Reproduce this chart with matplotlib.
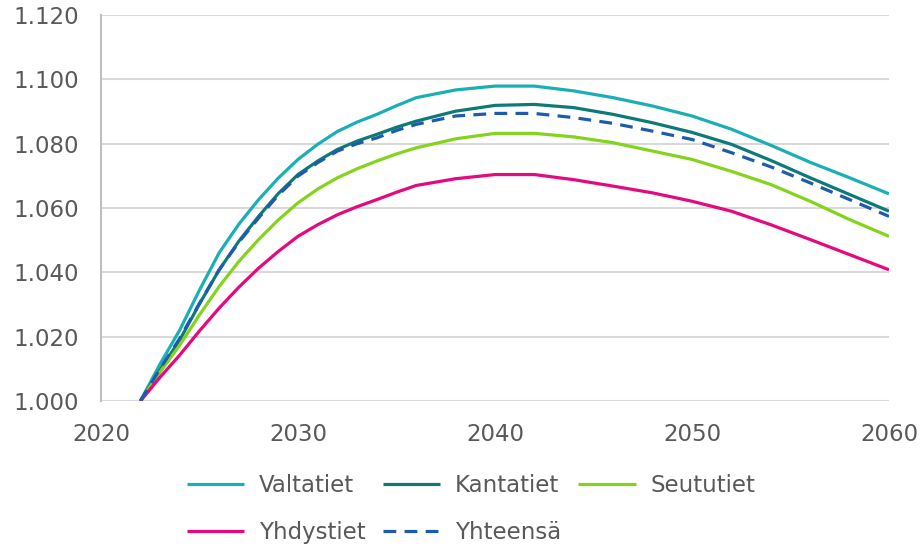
import matplotlib.pyplot as plt

years = [2022, 2023, 2024, 2025, 2026, 2027, 2028, 2029, 2030, 2031, 2032, 2033, 2034,
         2035, 2036, 2038, 2040, 2042, 2044, 2046, 2048, 2050, 2052, 2054, 2056, 2058, 2060]

valtatiet = [1.000, 1.0115, 1.0221, 1.0345, 1.0461, 1.0550, 1.0626, 1.0693, 1.0751,
             1.0798, 1.0838, 1.0867, 1.0891, 1.0918, 1.0943, 1.0967, 1.0979, 1.0979,
             1.0964, 1.0943, 1.0917, 1.0886, 1.0845, 1.0795, 1.0742, 1.0694, 1.0644]
kantatiet = [1.000, 1.0097, 1.0190, 1.0302, 1.0408, 1.0497, 1.0574, 1.0645, 1.0704,
             1.0746, 1.0782, 1.0808, 1.0829, 1.0851, 1.0870, 1.0901, 1.0919, 1.0922,
             1.0912, 1.0891, 1.0865, 1.0835, 1.0798, 1.0748, 1.0694, 1.0642, 1.0590]
seututiet = [1.000, 1.0090, 1.0174, 1.0268, 1.0356, 1.0434, 1.0502, 1.0563, 1.0616,
             1.0659, 1.0694, 1.0722, 1.0746, 1.0768, 1.0787, 1.0815, 1.0832, 1.0832,
             1.0821, 1.0803, 1.0777, 1.0751, 1.0714, 1.0673, 1.0621, 1.0564, 1.0512]
yhdystiet = [1.000, 1.0074, 1.0143, 1.0218, 1.0289, 1.0354, 1.0413, 1.0465, 1.0512,
             1.0548, 1.0579, 1.0604, 1.0626, 1.0649, 1.0670, 1.0691, 1.0704, 1.0704,
             1.0688, 1.0668, 1.0647, 1.0621, 1.0590, 1.0548, 1.0502, 1.0455, 1.0408]
yhteensa = [1.000, 1.0100, 1.0195, 1.0304, 1.0408, 1.0494, 1.0569, 1.0640, 1.0699,
            1.0741, 1.0777, 1.0800, 1.0818, 1.0841, 1.0860, 1.0886, 1.0894, 1.0894,
            1.0881, 1.0863, 1.0839, 1.0813, 1.0772, 1.0728, 1.0678, 1.0626, 1.0574]

x_ticks = [2020, 2030, 2040, 2050, 2060]
y_ticks = [1.000, 1.020, 1.040, 1.060, 1.080, 1.100, 1.120]

text_color = "#595959"
grid_color = "#D9D9D9"
fs = 16.5

fig = plt.figure(figsize=(9.24, 5.49), dpi=100)
ax = fig.add_axes([101 / 924, 1 - 401 / 549, 788 / 924, 386 / 549])

lw = 2.3
style = dict(lw=lw, solid_joinstyle="round", solid_capstyle="butt")
h_v, = ax.plot(years, valtatiet, color="#1AAFB4", label="Valtatiet", **style)
h_k, = ax.plot(years, kantatiet, color="#0D7A78", label="Kantatiet", **style)
h_s, = ax.plot(years, seututiet, color="#84D31C", label="Seututiet", **style)
h_y, = ax.plot(years, yhdystiet, color="#E5097F", label="Yhdystiet", **style)
h_t, = ax.plot(years, yhteensa, color="#1D5CAD", lw=lw, dashes=(4, 2.6),
               label="Yhteensä")

ax.set_xlim(2020, 2060)
ax.set_ylim(1.000, 1.120)
ax.set_xticks(x_ticks)
ax.set_yticks(y_ticks)
ax.set_yticklabels([f"{v:.3f}" for v in y_ticks])
ax.tick_params(length=0, labelsize=fs, colors=text_color)
ax.tick_params(axis="x", pad=16)
ax.tick_params(axis="y", pad=16)

ax.grid(True, axis="y", color=grid_color, lw=1.5)
ax.set_axisbelow(True)
for side in ["top", "right", "bottom"]:
    ax.spines[side].set_visible(False)
ax.spines["left"].set_color("#BFBFBF")
ax.spines["left"].set_linewidth(1.5)

# legend fills column by column, so order handles to read row by row
handles = [h_v, h_y, h_k, h_t, h_s]
leg = fig.legend(handles=handles, labels=[h.get_label() for h in handles],
                 ncol=3, loc="center", bbox_to_anchor=(471 / 924, 1 - 509 / 549),
                 frameon=False, fontsize=fs, handlelength=2.5, handletextpad=0.65,
                 columnspacing=0.75, labelspacing=1.05)
for t in leg.get_texts():
    t.set_color(text_color)

fig.savefig("out.png", dpi=100)
